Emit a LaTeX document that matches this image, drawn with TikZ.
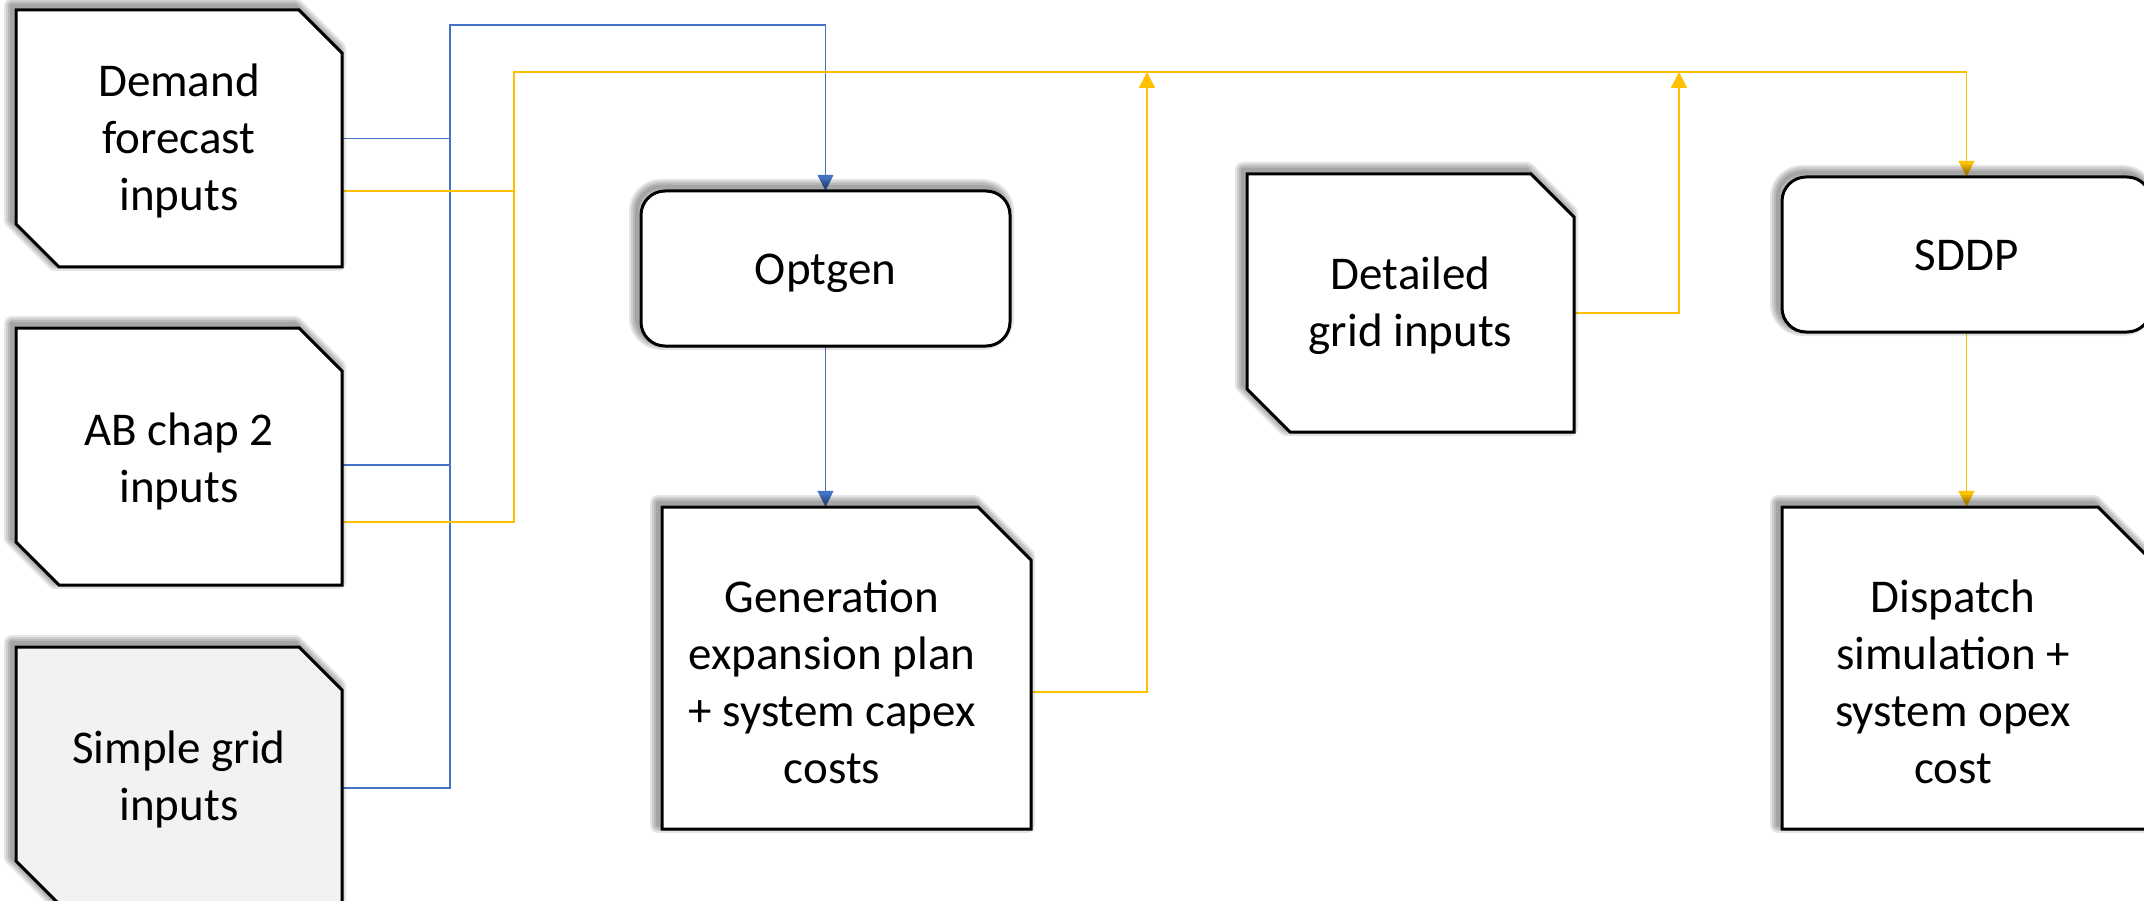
\documentclass[tikz,border=0pt]{standalone}
\usepackage{fontspec}
\setmainfont{Carlito}
\usetikzlibrary{arrows.meta,calc}
\definecolor{lnblue}{HTML}{4472C4}
\definecolor{lnyel}{HTML}{FFC000}
\definecolor{boxgray}{HTML}{F2F2F2}
\newcommand\SnipTwo[5]{(#1,#2) -- ({#3-#5},#2) -- (#3,{#2+#5}) -- (#3,#4) -- ({#1+#5},#4) -- (#1,{#4-#5}) -- cycle}
\newcommand\SnipOne[5]{(#1,#2) -- ({#3-#5},#2) -- (#3,{#2+#5}) -- (#3,#4) -- (#1,#4) -- cycle}
\newcommand\RoundBox[4]{[rounded corners=24pt] (#1,#2) rectangle (#3,#4)}
\newcommand\DrawShape[2]{%
  \begin{scope}[shift={(-4,-4)}]
    \foreach \w in {4,8,12,16}{\draw[black,opacity=0.1,line width=\w pt,line join=round] #2;}
  \end{scope}
  \draw[fill=#1,line width=3pt,line join=miter] #2;
}
\tikzset{
  geom/.style={draw=none,inner sep=0pt},
  txt/.style={anchor=base,inner sep=0pt,font=\fontsize{47}{57}\selectfont},
  bline/.style={draw=lnblue,line width=1.6pt},
  yline/.style={draw=lnyel,line width=1.6pt},
  tip/.style={-{Triangle[length=16pt,width=16pt]}}
}
\begin{document}
\begin{tikzpicture}[x=1pt,y=-1pt]
\useasboundingbox (0,0) rectangle (2144,901);
\fill[white] (0,0) rectangle (2144,901);
\clip (0,0) rectangle (2144,901);

% geometry nodes
\node[geom,minimum width=326pt,minimum height=257pt] (demand) at (179,138.5) {};
\node[geom,minimum width=326pt,minimum height=257pt] (ab) at (179,456.5) {};
\node[geom,minimum width=326pt,minimum height=257pt] (simple) at (179,775.5) {};
\node[geom,minimum width=369pt,minimum height=155pt] (optgen) at (825.5,268.5) {};
\node[geom,minimum width=369pt,minimum height=322pt] (gen) at (846.5,668) {};
\node[geom,minimum width=327pt,minimum height=258pt] (detailed) at (1410.5,303) {};
\node[geom,minimum width=369pt,minimum height=155pt] (sddp) at (1966.5,254.5) {};
\node[geom,minimum width=369pt,minimum height=322pt] (dispatch) at (1966.5,668) {};

\coordinate (busB) at (450,25);
\coordinate (busY) at (514,72);
\coordinate (jgen) at (1147,72);
\coordinate (jdet) at (1679,72);

% connectors (blue)
\draw[bline,tip] ($(simple.east)+(0,12.5)$) -| (busB) -| (optgen.north);
\draw[bline] (demand.east) -- (demand.east -| busB);
\coordinate (abB) at ($(ab.east)+(0,8.5)$);
\draw[bline] (abB) -- (abB -| busB);
\draw[bline,tip] (optgen.south) -- (optgen.south |- gen.north);

% connectors (yellow)
\draw[yline,tip] ($(ab.east)+(0,65.5)$) -| (busY) -| (sddp.north);
\coordinate (demY) at ($(demand.east)+(0,52.5)$);
\draw[yline] (demY) -- (demY -| busY);
\draw[yline,tip] ($(gen.east)+(0,24)$) -| (jgen);
\draw[yline,tip] ($(detailed.east)+(0,10)$) -| (jdet);
\draw[yline,tip] (sddp.south) -- (dispatch.north);

% shapes
\DrawShape{white}{\SnipTwo{16}{10}{342}{267}{43}}
\DrawShape{white}{\SnipTwo{16}{328}{342}{585}{43}}
\DrawShape{boxgray}{\SnipTwo{16}{647}{342}{904}{43}}
\DrawShape{white}{\RoundBox{641}{191}{1010}{346}}
\DrawShape{white}{\SnipOne{662}{507}{1031}{829}{53}}
\DrawShape{white}{\SnipTwo{1247}{174}{1574}{432}{43}}
\DrawShape{white}{\RoundBox{1782}{177}{2151}{332}}
\DrawShape{white}{\SnipOne{1782}{507}{2151}{829}{53}}

% texts
\node[txt] (demandT) at (179,97) {\begin{tabular}[t]{@{}c@{}}Demand\\forecast\\inputs\end{tabular}};
\node[txt] (abT) at (179,445) {\begin{tabular}[t]{@{}c@{}}AB chap 2\\inputs\end{tabular}};
\node[txt] (simpleT) at (179,763) {\begin{tabular}[t]{@{}c@{}}Simple grid\\inputs\end{tabular}};
\node[txt] (optgenT) at (825.5,285) {Optgen};
\node[txt] (genT) at (832,612) {\begin{tabular}[t]{@{}c@{}}Generation\\expansion plan\\+ system capex\\costs\end{tabular}};
\node[txt] (detailedT) at (1410.5,290) {\begin{tabular}[t]{@{}c@{}}Detailed\\grid inputs\end{tabular}};
\node[txt] (sddpT) at (1966.5,271) {SDDP};
\node[txt] (dispatchT) at (1953,612) {\begin{tabular}[t]{@{}c@{}}Dispatch\\simulation +\\system opex\\cost\end{tabular}};
\end{tikzpicture}
\end{document}
